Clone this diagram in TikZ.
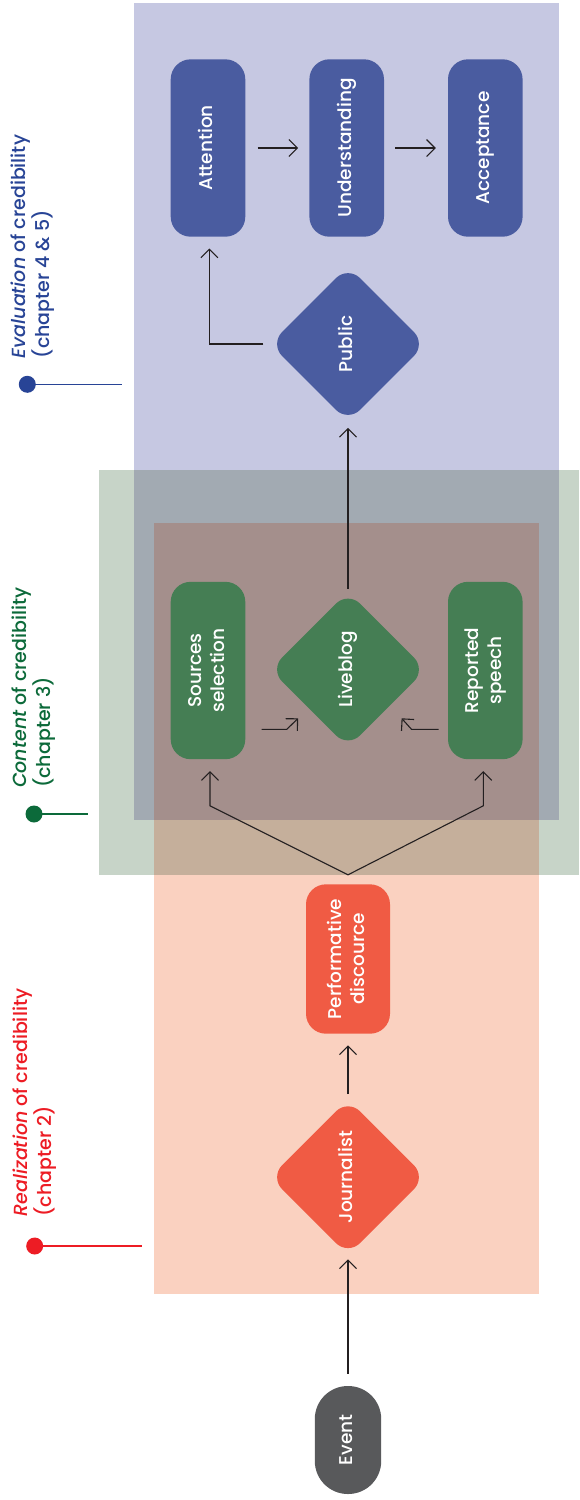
\documentclass[tikz,border=0pt]{standalone}
\usepackage{fontspec}
\setmainfont{Poppins}[UprightFont={* Medium}, ItalicFont={* Medium Italic}]
\usetikzlibrary{shapes.geometric,arrows.meta,calc}
\definecolor{bgB}{RGB}{198,200,226}
\definecolor{bgG}{RGB}{199,212,200}
\definecolor{bgP}{RGB}{250,209,192}
\definecolor{bgBG}{RGB}{162,170,178}
\definecolor{bgPG}{RGB}{197,175,155}
\definecolor{bgBGP}{RGB}{164,143,140}
\definecolor{nB}{RGB}{74,92,160}
\definecolor{nG}{RGB}{69,126,84}
\definecolor{nR}{RGB}{240,91,68}
\definecolor{nE}{RGB}{88,89,91}
\definecolor{lB}{RGB}{40,68,150}
\definecolor{lG}{RGB}{12,106,58}
\definecolor{lR}{RGB}{237,28,36}
\definecolor{ink}{RGB}{35,31,32}
\newcommand{\rt}[1]{\rotatebox{90}{\begin{tabular}{@{}c@{}}#1\end{tabular}}}
\newcommand{\rl}[1]{\rotatebox{90}{\begin{tabular}{@{}l@{}}#1\end{tabular}}}
\begin{document}
\begin{tikzpicture}[x=1pt,y=-1pt,
  box/.style={rectangle, rounded corners=20pt, inner sep=0pt, text=white,
    minimum width=74.6pt, minimum height=177.4pt,
    font=\fontsize{18.5}{23}\selectfont},
  dia/.style={diamond, aspect=1, minimum width=156pt, minimum height=156pt,
    inner sep=0pt, rounded corners=17pt, text=white,
    font=\fontsize{18.5}{23}\selectfont},
  arr/.style={draw=ink, line width=1.1pt,
    -{Straight Barb[length=8.5pt,width=17pt,line width=1.1pt]}},
  lab/.style={inner sep=0pt, anchor=south west, font=\fontsize{19}{22}\selectfont},
  dot/.style={circle, inner sep=0pt, minimum size=17pt},
  lead/.style={line width=1.2pt}
]
\useasboundingbox (0,0) rectangle (579,1500);
\fill[white] (0,0) rectangle (579,1500);
% background regions
\fill[bgG] (98.6,470) rectangle (579,875);
\fill[bgB] (134,3) rectangle (558.7,820);
\fill[bgP] (154,522.7) rectangle (539,1293.5);
\fill[bgBG] (134,470) rectangle (558.7,820);
\fill[bgPG] (154,522.7) rectangle (539,875);
\fill[bgBGP] (154,522.7) rectangle (539,820);

% nodes
\node[box, fill=nB] (att) at (208,148) {\rt{Attention}};
\node[box, fill=nB] (und) at (346.7,148) {\rt{Understanding}};
\node[box, fill=nB] (acc) at (485.3,148) {\rt{Acceptance}};
\node[dia, fill=nB] (pub) at (348,344) {\rt{Public}};
\node[dia, fill=nG] (live) at (348,669.5) {\rt{Liveblog}};
\node[box, fill=nG] (src) at (208,670.5) {\rt{Sources\\selection}};
\node[box, fill=nG] (rep) at (485.3,670.5) {\rt{Reported\\speech}};
\node[box, fill=nR, minimum width=84pt, minimum height=149.4pt] (perf) at (348,959) {\rt{Performative\\discource}};
\node[dia, fill=nR] (jour) at (348,1177.2) {\rt{Journalist}};
\node[box, fill=nE, minimum width=66.4pt, minimum height=108pt, rounded corners=33pt] (event) at (348,1440) {\rt{Event}};

% connectors
\draw[arr, shorten <=12pt, shorten >=11pt] (att) -- (und);
\draw[arr, shorten <=11pt, shorten >=12pt] (und) -- (acc);
\draw[arr, shorten <=6.5pt, shorten >=11.6pt] (pub.west) -| ([xshift=1.4pt]att.south);
\draw[arr, shorten <=2.5pt, shorten >=5.7pt] (live.north) -- (pub.south);
\draw[arr] ([xshift=16pt,yshift=-58.8pt]src.east) -- ++(25.3,0) -- ++(11.3,-11);
\draw[arr] ([xshift=-9.3pt,yshift=-58.8pt]rep.west) -- ++(-27,0) -- ++(-9.9,-11);
\coordinate (fork) at ([yshift=9.3pt]perf.north);
\draw[arr] (fork) -- ([xshift=2pt,yshift=-46.4pt]src.south) -- ([xshift=2pt,yshift=-11.7pt]src.south);
\draw[arr] (fork) -- ([xshift=-2pt,yshift=-46.4pt]rep.south) -- ([xshift=-2pt,yshift=-11.7pt]rep.south);
\draw[arr, shorten <=5pt, shorten >=11.5pt] (jour.north) -- (perf.south);
\draw[arr, shorten <=12pt, shorten >=4pt] (event.north) -- (jour.south);

% side labels
\node[lab, text=lB] (evl) at (10,358.3) {\rl{\textit{Evaluation} of credibility\\(chapter 4 \& 5)}};
\node[dot, fill=lB] (evd) at (27.3,384.3) {};
\coordinate (eve) at (121.7,384.3);
\draw[lead, lB] (evd.center) -- (eve);

\node[lab, text=lG] (col) at (11,788) {\rl{\textit{Content} of credibility\\(chapter 3)}};
\node[dot, fill=lG] (cod) at (34,814) {};
\coordinate (coe) at (87.5,814);
\draw[lead, lG] (cod.center) -- (coe);

\node[lab, text=lR] (rel) at (11.7,1216.7) {\rl{\textit{Realization} of credibility\\(chapter 2)}};
\node[dot, fill=lR] (red) at (34.7,1246) {};
\coordinate (ree) at (141.7,1246);
\draw[lead, lR] (red.center) -- (ree);
\end{tikzpicture}
\end{document}
